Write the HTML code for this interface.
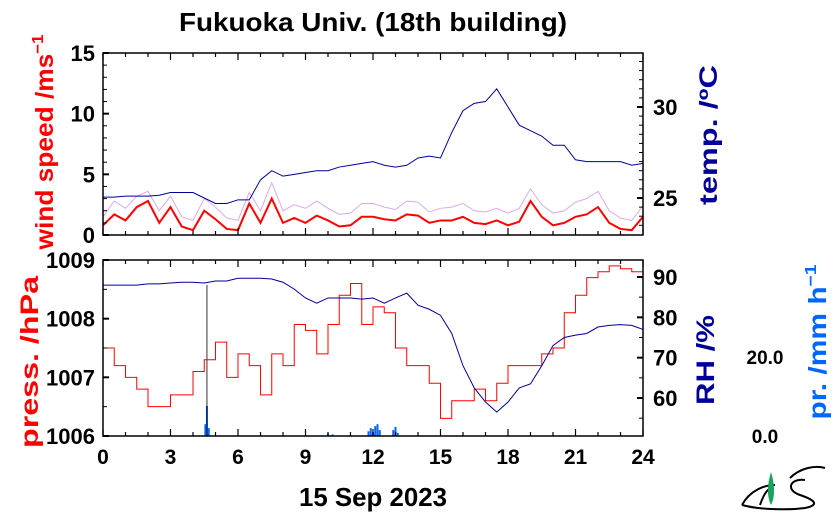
<!DOCTYPE html>
<html><head><meta charset="utf-8"><style>
body{margin:0;background:#fff;width:834px;height:520px;overflow:hidden}
svg text{font-family:"Liberation Sans","DejaVu Sans",sans-serif;font-weight:bold}
</style></head><body>
<svg id="c" width="834" height="520" xmlns="http://www.w3.org/2000/svg">
<text x="373" y="31" font-size="26" text-anchor="middle" textLength="388" lengthAdjust="spacingAndGlyphs">Fukuoka Univ. (18th building)</text>
<text x="373" y="506" font-size="26" text-anchor="middle" textLength="148" lengthAdjust="spacingAndGlyphs">15 Sep 2023</text>
<text transform="translate(53,142) rotate(-90)" font-size="25" fill="#ff0000" text-anchor="middle" textLength="215" lengthAdjust="spacingAndGlyphs">wind speed /ms<tspan font-size="16" dy="-10">−1</tspan></text>
<text transform="translate(717,135) rotate(-90)" font-size="25" fill="#000099" text-anchor="middle" textLength="140" lengthAdjust="spacingAndGlyphs">temp. /ºC</text>
<text transform="translate(38,362) rotate(-90)" font-size="25" fill="#ff0000" text-anchor="middle" textLength="172" lengthAdjust="spacingAndGlyphs">press. /hPa</text>
<text transform="translate(714,360) rotate(-90)" font-size="25" fill="#000099" text-anchor="middle" textLength="90" lengthAdjust="spacingAndGlyphs">RH /%</text>
<text transform="translate(826,342) rotate(-90)" font-size="25" fill="#0066ff" text-anchor="middle" textLength="155" lengthAdjust="spacingAndGlyphs">pr. /mm h<tspan font-size="16" dy="-10">−1</tspan></text>
<g>
<path d="M742 505 C750 490,765 485,775 485 M760 505 C765 490,770 488,772 488 M790 478 C800 468,815 465,825 468 M805 480 C790 478,785 490,800 495 C815 500,820 505,805 508 C790 510,760 510,742 505" fill="none" stroke="#000" stroke-width="2"/>
<path d="M771 505 C766 495,768 482,771 472 C774 482,776 495,771 505Z" fill="#1aa35a"/>
</g>
</svg>
<script>
const hours=[0,0.5,1,1.5,2,2.5,3,3.5,4,4.5,5,5.5,6,6.5,7,7.5,8,8.5,9,9.5,10,10.5,11,11.5,12,12.5,13,13.5,14,14.5,15,15.5,16,16.5,17,17.5,18,18.5,19,19.5,20,20.5,21,21.5,22,22.5,23,23.5,24];
const temp=[25.05,25.05,25.1,25.1,25.1,25.15,25.3,25.3,25.3,25.0,24.7,24.7,24.9,24.9,26.0,26.5,26.2,26.3,26.4,26.5,26.5,26.7,26.8,26.9,27.0,26.8,26.7,26.8,27.2,27.3,27.2,28.6,29.8,30.2,30.3,31.0,30.0,29.0,28.7,28.4,27.9,27.9,27.1,27.0,27.0,27.0,27.0,26.8,26.9];
const wind=[0.8,1.7,1.2,2.3,2.8,1.0,2.3,0.7,0.4,2.0,1.3,0.5,0.4,2.6,1.0,3.0,1.0,1.4,1.0,1.6,1.2,0.7,0.8,1.5,1.5,1.3,1.2,1.7,1.6,1.0,1.2,1.2,1.5,1.0,0.9,1.2,0.8,1.1,2.8,1.5,0.8,1.0,1.5,1.7,2.3,1.0,0.5,0.4,1.5];
const gust=[1.5,2.8,2.2,3.2,3.6,2.0,3.2,1.5,1.2,3.0,2.3,1.4,1.2,3.5,2.0,4.3,2.0,2.5,2.2,2.8,2.2,1.7,1.8,2.6,2.6,2.3,2.1,2.8,2.7,1.9,2.2,2.3,2.6,2.0,1.9,2.2,1.8,2.2,3.8,2.5,1.8,2.0,2.7,3.0,3.6,2.0,1.4,1.2,2.4];
const press=[1007.5,1007.2,1007.0,1006.8,1006.5,1006.5,1006.7,1006.7,1007.1,1007.3,1007.6,1007.0,1007.4,1007.2,1006.7,1007.4,1007.2,1007.9,1007.8,1007.4,1007.9,1008.4,1008.6,1007.9,1008.2,1008.1,1007.5,1007.2,1007.2,1006.9,1006.3,1006.6,1006.6,1006.8,1006.6,1006.9,1007.2,1007.2,1007.2,1007.4,1007.5,1008.1,1008.4,1008.7,1008.8,1008.9,1008.85,1008.8,1008.8];
const rh=[88,88,88,88,88.3,88.3,88.5,88.7,88.7,88.5,89,89,89.7,89.7,89.7,89.5,88.7,87,84.8,83.5,84.8,84.8,84.8,84.5,84.8,83.5,84.8,86,83,82,80.5,76,68,62.5,59,56.5,59,62.5,63.5,68,73,75,75.6,76,77.6,78,78.2,78,77];
const precipHours=[4.55,4.62,4.7,10.0,10.2,11.8,11.9,12.0,12.1,12.2,12.3,12.9,13.0,13.1];
const precip=[3.0,7.6,2.0,0.6,0.4,1.2,2.0,1.0,2.5,3.0,1.5,1.5,2.3,0.8];
const xTicks=[0,3,6,9,12,15,18,21,24];
const windTicks=[0,5,10,15];
const tempTicks=[25,30];
const pressTicks=[1006,1007,1008,1009];
const rhTicks=[60,70,80,90];
const prTicks=[0,20];

const svg=document.getElementById('c');const NS='http://www.w3.org/2000/svg';
const X0=103,X1=643;
const x=h=>X0+(X1-X0)*h/24;
const lin=(d0,d1,r0,r1)=>v=>r0+(v-d0)*(r1-r0)/(d1-d0);
const yW=lin(0,15,235,53), yT=lin(25,30,198,107);
const yP=lin(1006,1009,436,260), yR=lin(60,90,398,277), yPr=lin(0,20,436,357);
function mk(tag,at,name,parent){const e=document.createElementNS(NS,tag);for(const k in at)e.setAttribute(k,at[k]);


(parent||svg).appendChild(e);return e;}
function line(vals,yf,color,w,name,op,step){let d='';vals.forEach((v,i)=>{const px=x(hours[i]),py=yf(v);
if(i===0)d+='M'+px+' '+py;else if(step)d+='H'+px+'V'+py;else d+='L'+px+' '+py;});
mk('path',{d:d,fill:'none',stroke:color,'stroke-width':w,opacity:op||1},name);}
function frame(y0,y1,name){mk('rect',{x:X0,y:y0,width:X1-X0,height:y1-y0,fill:'none',stroke:'#000','stroke-width':1.5},name);
for(let h=0;h<=24;h++){const L=h%3===0?7:4;const px=x(h);
mk('line',{x1:px,x2:px,y1:y0,y2:y0+L,stroke:'#000','stroke-width':1.2},'x-tick');
mk('line',{x1:px,x2:px,y1:y1,y2:y1-L,stroke:'#000','stroke-width':1.2},'x-tick');}}
function yticks(ticks,yf,side,labels,minor,name){ticks.forEach(t=>{const py=yf(t);const xe=side==='l'?X0:X1;const dx=side==='l'?6:-6;
mk('line',{x1:xe,x2:xe+dx,y1:py,y2:py,stroke:'#000','stroke-width':2},name+'-tick');
if(labels){const tx=mk('text',{x:side==='l'?X0-8:X1+10,y:py+8,'font-size':22,'text-anchor':side==='l'?'end':'start'},name+'-label');tx.textContent=t;}});
minor.forEach(t=>{const py=yf(t);const xe=side==='l'?X0:X1;const dx=side==='l'?4:-4;
mk('line',{x1:xe,x2:xe+dx,y1:py,y2:py,stroke:'#000','stroke-width':1},name+'-minor');});}
line(gust,yW,'#cc88dd',1,'wind-gust-line',0.7);
line(wind,yW,'#ff0000',2,'wind-speed-line');
line(temp,yT,'#000099',1,'temperature-line');
frame(53,235,'top-panel-frame');
yticks(windTicks,yW,'l',true,[1,2,3,4,6,7,8,9,11,12,13,14],'wind');
yticks(tempTicks,yT,'r',true,[23.5,24,24.5,25.5,26,26.5,27,27.5,28,28.5,29,29.5,30.5,31,31.5,32,32.5],'temp');
precip.forEach((v,i)=>{const px=x(precipHours[i]);mk('rect',{x:px-1,y:yPr(v),width:2,height:yPr(0)-yPr(v),fill:'#0066ff'},'precip-bar');});
mk('line',{x1:x(4.62),x2:x(4.62),y1:285,y2:436,stroke:'#000','stroke-width':0.8},'precip-spike');
line(press,yP,'#ff0000',1,'pressure-line',1,true);
line(rh,yR,'#000099',1,'humidity-line');
frame(260,436,'bottom-panel-frame');
yticks(pressTicks,yP,'l',true,[1006.5,1007.5,1008.5],'pressure');
yticks(rhTicks,yR,'r',true,[55,65,75,85],'rh');
prTicks.forEach(t=>{const tx=mk('text',{x:765,y:yPr(t)+7,'font-size':19,'text-anchor':'middle'},'precip-tick-label');tx.textContent=t.toFixed(1);});
xTicks.forEach(h=>{const tx=mk('text',{x:x(h),y:464,'font-size':21,'text-anchor':'middle'},'x-tick-label');tx.textContent=h;});
</script>
</body></html>
